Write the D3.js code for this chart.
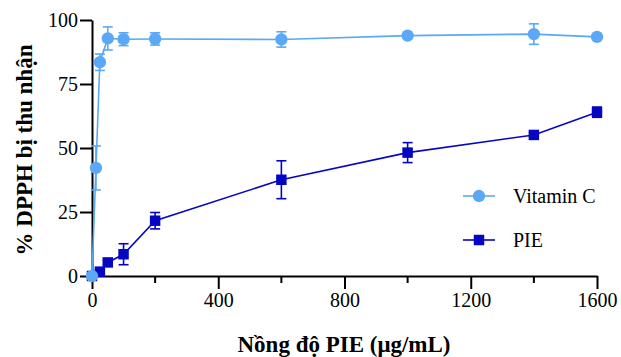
<!DOCTYPE html>
<html>
<head>
<meta charset="utf-8">
<script src="https://cdn.jsdelivr.net/npm/d3@7"></script>
<style>
  svg text { font-family: "Liberation Serif", "Times New Roman", serif !important; }
</style>
</head>
<body style="margin:0; background:#fff">
<script>
// concentrations (µg/mL)
var vitcX = [0, 12.5, 25, 50, 100, 200, 600, 1000, 1400, 1600]
var vitcY = [0, 42.2, 83.5, 92.8, 92.5, 92.6, 92.4, 93.9, 94.5, 93.4]
var vitcErr = [0, 8.6, 3.2, 4.5, 2.5, 2.4, 3.0, 0.6, 4.0, 0.6]

var pieX = [0, 25, 50, 100, 200, 600, 1000, 1400, 1600]
var pieY = [0, 1.7, 5.3, 8.5, 21.6, 37.6, 48.2, 55.1, 64.0]
var pieErr = [0, 0.8, 0.8, 4.1, 3.2, 7.4, 3.9, 0.8, 2.0]

var xTicks = [0, 400, 800, 1200, 1600]
var xMinor = [200, 600, 1000, 1400]
var yTicks = [0, 25, 50, 75, 100]

var width = 621, height = 357
var margin = {top: 20, right: 24, bottom: 81, left: 92}
var serif = '"Liberation Serif", serif'

var svg = d3.select("body").append("svg")
    .attr("width", width)
    .attr("height", height)
    .style("display", "block")

var x = d3.scaleLinear().domain([0, 1600]).range([margin.left, width - margin.right])
var y = d3.scaleLinear().domain([0, 100]).range([height - margin.bottom, margin.top])

var lightBlue = "#5aa8f6", darkBlue = "#0606c2"

// axes
var xAxis = svg.append("g")
    .attr("transform", "translate(0," + y(0) + ")")
    .call(d3.axisBottom(x).tickValues(xTicks).tickFormat(d3.format("d"))
      .tickSize(13).tickPadding(4).tickSizeOuter(0))
xAxis.append("g").selectAll("line")
  .data(xMinor)
  .enter().append("line")
    .attr("x1", function(d) { return x(d) }).attr("x2", function(d) { return x(d) })
    .attr("y1", 0).attr("y2", 7)
    .attr("stroke", "#000").attr("stroke-width", 2)

var yAxis = svg.append("g")
    .attr("transform", "translate(" + x(0) + ",0)")
    .call(d3.axisLeft(y).tickValues(yTicks).tickSize(12).tickPadding(2).tickSizeOuter(0))

xAxis.attr("font-family", null).attr("font-size", null)
yAxis.attr("font-family", null).attr("font-size", null)
svg.selectAll(".domain").attr("stroke", "#000").attr("stroke-width", 2)
svg.selectAll(".tick line").attr("stroke", "#000").attr("stroke-width", 2)
svg.selectAll(".tick text")
    .style("font-family", serif)
    .style("font-size", "20px")
    .attr("fill", "#000")

// axis titles
svg.append("text")
    .attr("transform", "translate(32," + ((margin.top + y(0)) / 2 + 2) + ") rotate(-90)")
    .attr("text-anchor", "middle")
    .style("font-family", serif)
    .style("font-size", "23px")
    .style("font-weight", "bold")
    .text("% DPPH bị thu nhận")

svg.append("text")
    .attr("x", 344)
    .attr("y", 352)
    .attr("text-anchor", "middle")
    .style("font-family", serif)
    .style("font-size", "23px")
    .style("font-weight", "bold")
    .text("Nồng độ PIE (μg/mL)")

function drawSeries(xs, ys, errs, color, shape) {
  var data = xs.map(function(d, i) { return {x: d, y: ys[i], e: errs[i]} })
  var g = svg.append("g")

  g.append("path")
      .datum(data)
      .attr("fill", "none")
      .attr("stroke", color)
      .attr("stroke-width", 1.6)
      .attr("d", d3.line().x(function(d) { return x(d.x) }).y(function(d) { return y(d.y) }))

  var eb = g.selectAll(".err").data(data.filter(function(d) { return d.e > 0 }))
    .enter().append("g").attr("class", "err")
    .attr("stroke", color).attr("stroke-width", 1.6)
  eb.append("line")
      .attr("x1", function(d) { return x(d.x) }).attr("x2", function(d) { return x(d.x) })
      .attr("y1", function(d) { return y(d.y + d.e) }).attr("y2", function(d) { return y(d.y - d.e) })
  eb.append("line")
      .attr("x1", function(d) { return x(d.x) - 5 }).attr("x2", function(d) { return x(d.x) + 5 })
      .attr("y1", function(d) { return y(d.y + d.e) }).attr("y2", function(d) { return y(d.y + d.e) })
  eb.append("line")
      .attr("x1", function(d) { return x(d.x) - 5 }).attr("x2", function(d) { return x(d.x) + 5 })
      .attr("y1", function(d) { return y(d.y - d.e) }).attr("y2", function(d) { return y(d.y - d.e) })

  g.selectAll(".pt").data(data)
    .enter().append("path")
      .attr("class", "pt")
      .attr("transform", function(d) { return "translate(" + x(d.x) + "," + y(d.y) + ")" })
      .attr("d", shape)
      .attr("fill", color)
}

var circle = d3.symbol().type(d3.symbolCircle).size(120)()
var square = d3.symbol().type(d3.symbolSquare).size(110)()

drawSeries(pieX, pieY, pieErr, darkBlue, square)
drawSeries(vitcX, vitcY, vitcErr, lightBlue, circle)

// legend
var legend = [
  {name: "Vitamin C", color: lightBlue, shape: circle, y: 196},
  {name: "PIE", color: darkBlue, shape: square, y: 240}
]
var lg = svg.selectAll(".legend").data(legend).enter().append("g")
    .attr("transform", function(d) { return "translate(0," + d.y + ")" })
lg.append("line")
    .attr("x1", 463).attr("x2", 495).attr("y1", 0).attr("y2", 0)
    .attr("stroke", function(d) { return d.color }).attr("stroke-width", 1.6)
lg.append("path")
    .attr("transform", "translate(479,0)")
    .attr("d", function(d) { return d.shape })
    .attr("fill", function(d) { return d.color })
lg.append("text")
    .attr("x", 513).attr("y", 7)
    .style("font-family", serif)
    .style("font-size", "20px")
    .text(function(d) { return d.name })
</script>
</body>
</html>
